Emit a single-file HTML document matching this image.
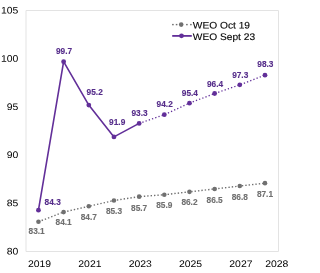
<!DOCTYPE html><html><head><meta charset="utf-8"><style>html,body{margin:0;padding:0;background:#fff;width:305px;height:273px;overflow:hidden}svg{display:block;will-change:transform}text{font-family:"Liberation Sans",sans-serif}</style></head><body>
<svg width="305" height="273" viewBox="0 0 305 273">
<rect x="0" y="0" width="305" height="273" fill="#fff"/>
<path d="M26 10.5H278.5V251.5H26Z" fill="none" stroke="#E3E3E3" stroke-width="1"/>
<g transform="translate(18.40,13.50) rotate(0.05) scale(1.04,0.95)"><text x="0" y="0" font-size="10" text-anchor="end" fill="#000">105</text></g>
<g transform="translate(18.40,61.70) rotate(0.05) scale(1.04,0.95)"><text x="0" y="0" font-size="10" text-anchor="end" fill="#000">100</text></g>
<g transform="translate(18.40,109.90) rotate(0.05) scale(1.04,0.95)"><text x="0" y="0" font-size="10" text-anchor="end" fill="#000">95</text></g>
<g transform="translate(18.40,158.10) rotate(0.05) scale(1.04,0.95)"><text x="0" y="0" font-size="10" text-anchor="end" fill="#000">90</text></g>
<g transform="translate(18.40,206.30) rotate(0.05) scale(1.04,0.95)"><text x="0" y="0" font-size="10" text-anchor="end" fill="#000">85</text></g>
<g transform="translate(18.40,254.50) rotate(0.05) scale(1.04,0.95)"><text x="0" y="0" font-size="10" text-anchor="end" fill="#000">80</text></g>
<g transform="translate(39.55,267.00) rotate(0.05) scale(1.04,0.95)"><text x="0" y="0" font-size="10" text-anchor="middle" fill="#000">2019</text></g>
<g transform="translate(89.89,267.00) rotate(0.05) scale(1.04,0.95)"><text x="0" y="0" font-size="10" text-anchor="middle" fill="#000">2021</text></g>
<g transform="translate(140.23,267.00) rotate(0.05) scale(1.04,0.95)"><text x="0" y="0" font-size="10" text-anchor="middle" fill="#000">2023</text></g>
<g transform="translate(190.57,267.00) rotate(0.05) scale(1.04,0.95)"><text x="0" y="0" font-size="10" text-anchor="middle" fill="#000">2025</text></g>
<g transform="translate(240.91,267.00) rotate(0.05) scale(1.04,0.95)"><text x="0" y="0" font-size="10" text-anchor="middle" fill="#000">2027</text></g>
<g transform="translate(276.80,267.00) rotate(0.05) scale(1.04,0.95)"><text x="0" y="0" font-size="10" text-anchor="middle" fill="#000">2028</text></g>
<polyline points="38.45,221.72 63.62,212.08 88.79,206.29 113.96,200.51 139.13,196.65 164.30,194.72 189.47,191.83 214.64,188.94 239.81,186.05 264.98,183.16" fill="none" stroke="#707070" stroke-width="1.4" stroke-dasharray="1.4 2.0"/>
<circle cx="38.45" cy="221.72" r="2.3" fill="#707070"/>
<circle cx="63.62" cy="212.08" r="2.3" fill="#707070"/>
<circle cx="88.79" cy="206.29" r="2.3" fill="#707070"/>
<circle cx="113.96" cy="200.51" r="2.3" fill="#707070"/>
<circle cx="139.13" cy="196.65" r="2.3" fill="#707070"/>
<circle cx="164.30" cy="194.72" r="2.3" fill="#707070"/>
<circle cx="189.47" cy="191.83" r="2.3" fill="#707070"/>
<circle cx="214.64" cy="188.94" r="2.3" fill="#707070"/>
<circle cx="239.81" cy="186.05" r="2.3" fill="#707070"/>
<circle cx="264.98" cy="183.16" r="2.3" fill="#707070"/>
<polyline points="38.45,210.15 63.62,61.69 88.79,105.07 113.96,136.88 139.13,123.39" fill="none" stroke="#622F99" stroke-width="1.6" stroke-linejoin="round"/>
<polyline points="139.13,123.39 164.30,114.71 189.47,103.14 214.64,93.50 239.81,84.83 264.98,75.19" fill="none" stroke="#622F99" stroke-width="1.3" stroke-dasharray="1.3 2.1"/>
<circle cx="38.45" cy="210.15" r="2.4" fill="#622F99"/>
<circle cx="63.62" cy="61.69" r="2.4" fill="#622F99"/>
<circle cx="88.79" cy="105.07" r="2.4" fill="#622F99"/>
<circle cx="113.96" cy="136.88" r="2.4" fill="#622F99"/>
<circle cx="139.13" cy="123.39" r="2.4" fill="#622F99"/>
<circle cx="164.30" cy="114.71" r="2.4" fill="#622F99"/>
<circle cx="189.47" cy="103.14" r="2.4" fill="#622F99"/>
<circle cx="214.64" cy="93.50" r="2.4" fill="#622F99"/>
<circle cx="239.81" cy="84.83" r="2.4" fill="#622F99"/>
<circle cx="264.98" cy="75.19" r="2.4" fill="#622F99"/>
<text x="44.60" y="205.00" font-size="8.3" font-weight="bold" text-anchor="start" fill="#552C8A" stroke="#552C8A" stroke-width="0.12">84.3</text>
<text x="64.02" y="53.59" font-size="8.3" font-weight="bold" text-anchor="middle" fill="#552C8A" stroke="#552C8A" stroke-width="0.12">99.7</text>
<text x="86.60" y="94.70" font-size="8.3" font-weight="bold" text-anchor="start" fill="#552C8A" stroke="#552C8A" stroke-width="0.12">95.2</text>
<text x="109.10" y="125.00" font-size="8.3" font-weight="bold" text-anchor="start" fill="#552C8A" stroke="#552C8A" stroke-width="0.12">91.9</text>
<text x="139.53" y="116.29" font-size="8.3" font-weight="bold" text-anchor="middle" fill="#552C8A" stroke="#552C8A" stroke-width="0.12">93.3</text>
<text x="164.70" y="107.01" font-size="8.3" font-weight="bold" text-anchor="middle" fill="#552C8A" stroke="#552C8A" stroke-width="0.12">94.2</text>
<text x="189.87" y="96.24" font-size="8.3" font-weight="bold" text-anchor="middle" fill="#552C8A" stroke="#552C8A" stroke-width="0.12">95.4</text>
<text x="215.04" y="86.50" font-size="8.3" font-weight="bold" text-anchor="middle" fill="#552C8A" stroke="#552C8A" stroke-width="0.12">96.4</text>
<text x="240.21" y="77.53" font-size="8.3" font-weight="bold" text-anchor="middle" fill="#552C8A" stroke="#552C8A" stroke-width="0.12">97.3</text>
<text x="265.38" y="67.09" font-size="8.3" font-weight="bold" text-anchor="middle" fill="#552C8A" stroke="#552C8A" stroke-width="0.12">98.3</text>
<text x="36.60" y="234.00" font-size="8.3" font-weight="bold" text-anchor="middle" fill="#707070" stroke="#707070" stroke-width="0.12">83.1</text>
<text x="63.62" y="225.38" font-size="8.3" font-weight="bold" text-anchor="middle" fill="#707070" stroke="#707070" stroke-width="0.12">84.1</text>
<text x="88.79" y="219.59" font-size="8.3" font-weight="bold" text-anchor="middle" fill="#707070" stroke="#707070" stroke-width="0.12">84.7</text>
<text x="113.96" y="213.81" font-size="8.3" font-weight="bold" text-anchor="middle" fill="#707070" stroke="#707070" stroke-width="0.12">85.3</text>
<text x="139.13" y="211.15" font-size="8.3" font-weight="bold" text-anchor="middle" fill="#707070" stroke="#707070" stroke-width="0.12">85.7</text>
<text x="164.30" y="208.02" font-size="8.3" font-weight="bold" text-anchor="middle" fill="#707070" stroke="#707070" stroke-width="0.12">85.9</text>
<text x="189.47" y="205.13" font-size="8.3" font-weight="bold" text-anchor="middle" fill="#707070" stroke="#707070" stroke-width="0.12">86.2</text>
<text x="214.64" y="203.34" font-size="8.3" font-weight="bold" text-anchor="middle" fill="#707070" stroke="#707070" stroke-width="0.12">86.5</text>
<text x="239.81" y="199.95" font-size="8.3" font-weight="bold" text-anchor="middle" fill="#707070" stroke="#707070" stroke-width="0.12">86.8</text>
<text x="264.98" y="196.96" font-size="8.3" font-weight="bold" text-anchor="middle" fill="#707070" stroke="#707070" stroke-width="0.12">87.1</text>
<rect x="172.1" y="23.9" width="1.6" height="1.4" fill="#707070"/>
<rect x="175.8" y="23.9" width="1.6" height="1.4" fill="#707070"/>
<rect x="186.1" y="23.9" width="1.6" height="1.4" fill="#707070"/>
<rect x="190.1" y="23.9" width="1.6" height="1.4" fill="#707070"/>
<circle cx="181.2" cy="24.6" r="2.3" fill="#707070"/>
<line x1="172.2" y1="35.9" x2="191.8" y2="35.9" stroke="#622F99" stroke-width="1.8"/>
<circle cx="181.5" cy="35.8" r="2.4" fill="#622F99"/>
<g transform="translate(192.80,28.50) rotate(0.05) scale(1.02,0.95)"><text x="0" y="0" font-size="10" text-anchor="start" fill="#000" stroke="#000" stroke-width="0.12">WEO Oct 19</text></g>
<g transform="translate(192.80,40.00) rotate(0.05) scale(1.02,0.95)"><text x="0" y="0" font-size="10" text-anchor="start" fill="#000" stroke="#000" stroke-width="0.12">WEO Sept 23</text></g>
</svg></body></html>
